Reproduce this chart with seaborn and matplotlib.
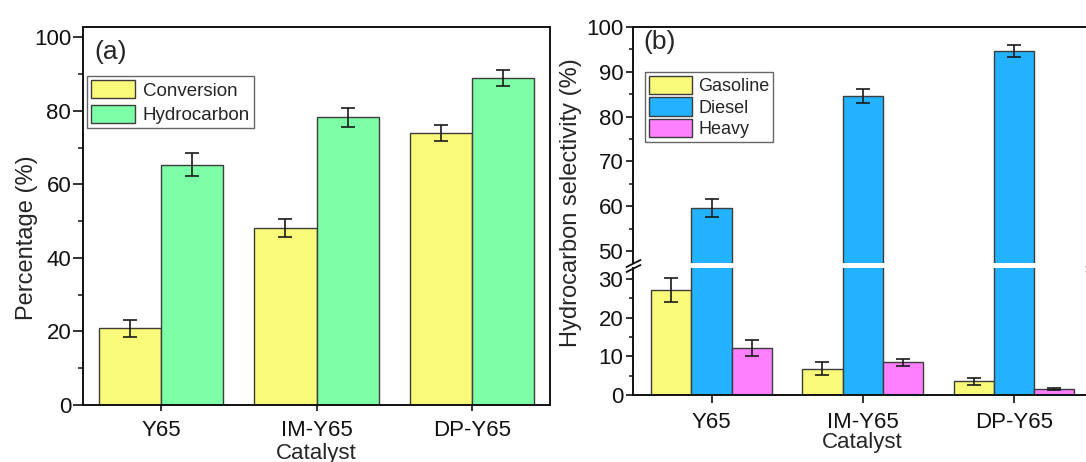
import numpy as np
import pandas as pd
import matplotlib
matplotlib.use("Agg")
import matplotlib.pyplot as plt
from matplotlib.patches import Patch
from matplotlib.ticker import MultipleLocator
import seaborn as sns

# ---- data -------------------------------------------------------------
catalysts = ["Y65", "IM-Y65", "DP-Y65"]

# panel (a): conversion and hydrocarbon yield, %
conversion = [20.9, 48.1, 74.0]
conversion_err = [2.3, 2.4, 2.2]
hydrocarbon = [65.4, 78.2, 88.9]
hydrocarbon_err = [3.0, 2.6, 2.1]

# panel (b): hydrocarbon selectivity, %
gasoline = [27.1, 6.8, 3.6]
gasoline_err = [3.1, 1.6, 0.9]
diesel = [59.7, 84.6, 94.6]
diesel_err = [2.0, 1.5, 1.3]
heavy = [12.2, 8.4, 1.6]
heavy_err = [2.0, 0.9, 0.3]

series_a = ["Conversion", "Hydrocarbon"]
series_b = ["Gasoline", "Diesel", "Heavy"]
colors_a = ["#FAFA7A", "#7DFFA8"]
colors_b = ["#FAFA7A", "#22B2FF", "#FF80FF"]

# ---- style ------------------------------------------------------------
sns.set_style("ticks")
plt.rcParams["font.family"] = ["Liberation Sans", "DejaVu Sans"]
plt.rcParams["axes.linewidth"] = 1.4
plt.rcParams["axes.edgecolor"] = "#111111"

W, H = 1086, 462
fig = plt.figure(figsize=(W / 100, H / 100), dpi=100)


def frac_box(x0, x1, ytop, ybot):
    """pixel box -> figure fraction rect"""
    return [x0 / W, 1 - ybot / H, (x1 - x0) / W, (ybot - ytop) / H]


def long_frame(names, columns):
    rows = []
    for name, vals in zip(names, columns):
        for cat, v in zip(catalysts, vals):
            rows.append({"catalyst": cat, "series": name, "value": v})
    return pd.DataFrame(rows)


def bars(ax, df, names, colors):
    sns.barplot(data=df, x="catalyst", y="value", hue="series",
                order=catalysts, hue_order=names, palette=colors,
                saturation=1, width=0.8, edgecolor="#3c3c3c", linewidth=1.0,
                errorbar=None, legend=False, ax=ax)


def error_bars(ax, values, errors):
    for cont, vals, errs in zip(ax.containers, values, errors):
        xs = [p.get_x() + p.get_width() / 2 for p in cont]
        ax.errorbar(xs, vals, yerr=errs, fmt="none", ecolor="#1a1a1a",
                    elinewidth=1.2, capsize=5, capthick=1.2, zorder=5)


tick_kw = dict(labelsize=16, direction="out", width=1.2, colors="#111111")

# ---- panel (a) ---------------------------------------------------------
ax_a = fig.add_axes(frac_box(83, 550, 27, 405))
df_a = long_frame(series_a, [conversion, hydrocarbon])
bars(ax_a, df_a, series_a, colors_a)
error_bars(ax_a, [conversion, hydrocarbon], [conversion_err, hydrocarbon_err])
ax_a.set_xlim(-0.5, 2.5)
ax_a.set_ylim(0, 102.8)
ax_a.yaxis.set_major_locator(MultipleLocator(20))
ax_a.yaxis.set_minor_locator(MultipleLocator(10))
ax_a.tick_params(axis="y", which="major", length=7, pad=1.5, **tick_kw)
ax_a.tick_params(axis="y", which="minor", length=3.5, width=1.2)
ax_a.tick_params(axis="x", length=4, pad=6.5, **tick_kw)
ax_a.set_xlabel("")
ax_a.set_ylabel("")
for s in ax_a.spines.values():
    s.set_visible(True)
ax_a.legend(handles=[Patch(facecolor=c, edgecolor="#3c3c3c", label=n)
                     for n, c in zip(series_a, colors_a)],
            loc="upper left", bbox_to_anchor=(0.009, 0.870), borderaxespad=0,
            fontsize=13.5, frameon=True, fancybox=False, edgecolor="#666666",
            framealpha=1, handlelength=2.35, handleheight=1.15,
            labelspacing=0.28, handletextpad=0.4, borderpad=0.2)
ax_a.get_legend().get_frame().set_linewidth(1.0)
ax_a.text(0.025, 0.965, "(a)", transform=ax_a.transAxes, fontsize=19,
          va="top", ha="left")

# ---- panel (b): broken y axis -----------------------------------------
ax_top = fig.add_axes(frac_box(633, 1092.6, 26.7, 263))
ax_bot = fig.add_axes(frac_box(633, 1092.6, 268, 395))
df_b = long_frame(series_b, [gasoline, diesel, heavy])
for ax in (ax_top, ax_bot):
    bars(ax, df_b, series_b, colors_b)
    error_bars(ax, [gasoline, diesel, heavy], [gasoline_err, diesel_err, heavy_err])
    ax.set_xlim(-0.52, 2.52)
    ax.set_xlabel("")
    ax.set_ylabel("")

ax_top.set_ylim(47.4, 100)
ax_top.yaxis.set_major_locator(MultipleLocator(10))
ax_top.yaxis.set_minor_locator(MultipleLocator(5))
ax_top.spines["bottom"].set_visible(False)
ax_top.spines["top"].set_visible(True)
ax_top.spines["right"].set_visible(True)
ax_top.tick_params(axis="x", bottom=False, labelbottom=False)

ax_bot.set_ylim(0, 32.8)
ax_bot.yaxis.set_major_locator(MultipleLocator(10))
ax_bot.yaxis.set_minor_locator(MultipleLocator(5))
ax_bot.spines["top"].set_visible(False)
ax_bot.spines["right"].set_visible(True)
ax_bot.tick_params(axis="x", length=6, pad=6, **tick_kw)

for ax in (ax_top, ax_bot):
    ax.tick_params(axis="y", which="major", length=5, pad=2, **tick_kw)
    ax.tick_params(axis="y", which="minor", length=3, width=1.2)

# break marks on the y axis
brk = dict(marker=[(-1, -0.5), (1, 0.5)], markersize=11, linestyle="none",
           color="#111111", mec="#111111", mew=1.3, clip_on=False)
ax_top.plot([0, 1], [0, 0], transform=ax_top.transAxes, **brk)
ax_bot.plot([0, 1], [1, 1], transform=ax_bot.transAxes, **brk)

ax_top.legend(handles=[Patch(facecolor=c, edgecolor="#3c3c3c", label=n)
                       for n, c in zip(series_b, colors_b)],
              loc="upper left", bbox_to_anchor=(0.026, 0.808), borderaxespad=0,
              fontsize=13, frameon=True, fancybox=False, edgecolor="#666666",
              framealpha=1, handlelength=2.4, handleheight=1.2,
              labelspacing=0.12, handletextpad=0.35, borderpad=0.2)
ax_top.get_legend().get_frame().set_linewidth(1.0)
ax_top.text(0.022, 0.985, "(b)", transform=ax_top.transAxes, fontsize=19,
            va="top", ha="left")

# ---- axis titles -------------------------------------------------------
fig.text(27 / W, 1 - 238 / H, "Percentage (%)", rotation=90, fontsize=17,
         ha="center", va="center")
fig.text(571 / W, 1 - 203 / H, "Hydrocarbon selectivity (%)", rotation=90,
         fontsize=17, ha="center", va="center")
fig.text(316 / W, 1 - 459 / H, "Catalyst", fontsize=16, ha="center",
         va="baseline")
fig.text(862 / W, 1 - 448 / H, "Catalyst", fontsize=16, ha="center",
         va="baseline")

fig.savefig("out.png", dpi=100)
